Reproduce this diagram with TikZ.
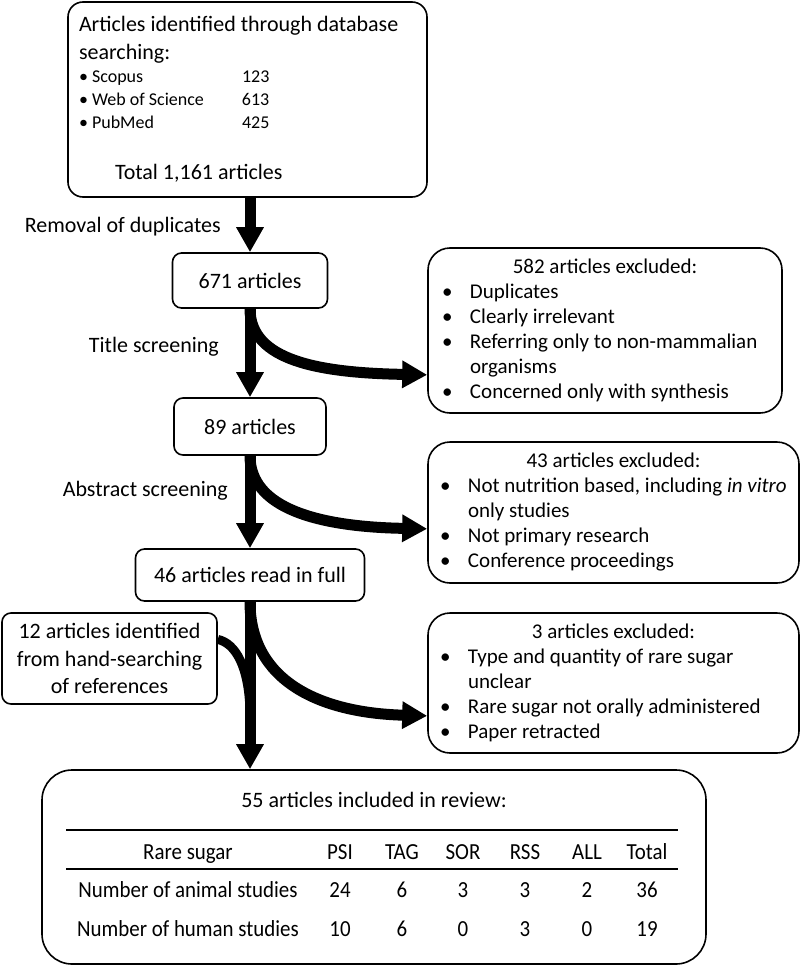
\documentclass[tikz,border=0pt]{standalone}
\usepackage{fontspec}
\setmainfont{Carlito}
\newfontfamily\tabfont[FakeStretch=0.91]{Carlito}
\usepackage{tikz}
\usetikzlibrary{arrows.meta}
\setlength{\parindent}{0pt}
\newcommand{\exitem}[1]{\makebox[32pt][l]{\hspace{4pt}\textbullet}#1}
\newcommand{\exmore}[1]{\makebox[32pt][l]{}#1}

\begin{document}
\begin{tikzpicture}[x=1pt,y=-1pt,
        box/.style={draw, line width=1.6pt, rounded corners=9pt, inner sep=0pt, font=\fontsize{22}{26}\selectfont},
        exbox/.style={box, rounded corners=22pt, font=\fontsize{21}{25}\selectfont},
        flow/.style={line width=11pt, -{Triangle[length=25pt,width=26pt]}},
        steplabel/.style={anchor=east, inner sep=0pt, text height=15pt, text depth=0pt, font=\fontsize{22}{26}\selectfont},
        tabcell/.style={inner sep=0pt, text height=15pt, text depth=0pt, font=\tabfont\fontsize{23}{27}\selectfont}]
        \useasboundingbox (0,0) rectangle (805,966);
        % search results
        \node[box, rounded corners=15pt, minimum width=359pt, minimum height=195pt] (search) at (247.5,99.5) {\begin{minipage}{337pt}
            \fontsize{22}{28}\selectfont Articles identified through database\\ searching:\par
            \fontsize{18}{23}\selectfont
            \makebox[163pt][l]{\textbullet\ Scopus}123\\
            \makebox[163pt][l]{\textbullet\ Web of Science}613\\
            \makebox[163pt][l]{\textbullet\ PubMed}425\par
            \fontsize{22}{51}\selectfont\hspace*{36pt}Total 1,161 articles
        \end{minipage}};
        % main steps
        \node[box, minimum width=155pt, minimum height=55pt] (b671) at (250,280.5) {671 articles};
        \node[box, minimum width=152pt, minimum height=57pt] (b89) at (250,426.5) {89 articles};
        \node[box, minimum width=229pt, minimum height=52pt] (b46) at (250,575) {46 articles read in full};
        \node[box, minimum width=215pt, minimum height=91pt, align=center, font=\fontsize{22}{27.5}\selectfont] (b12) at (109.5,658.5) {12 articles identified\\ from hand-searching\\ of references};
        \node[steplabel] (lbdup) at (221,224.5) {Removal of duplicates};
        \node[steplabel] (lbtitle) at (219,345) {Title screening};
        \node[steplabel] (lbabs) at (228,488.5) {Abstract screening};
        % exclusions
        \node[exbox, minimum width=354pt, minimum height=165pt] (ex582) at (605,330.5) {\begin{minipage}{334pt}
            \centering 582 articles excluded:\par\raggedright
            \exitem{Duplicates}\\
            \exitem{Clearly irrelevant}\\
            \exitem{Referring only to non-mammalian}\\
            \exmore{organisms}\\
            \exitem{Concerned only with synthesis}
        \end{minipage}};
        \node[exbox, minimum width=371pt, minimum height=141pt] (ex43) at (613.5,512.5) {\begin{minipage}{355pt}
            \centering 43 articles excluded:\par\raggedright
            \exitem{Not nutrition based, including \textit{in vitro}}\\
            \exmore{only studies}\\
            \exitem{Not primary research}\\
            \exitem{Conference proceedings}
        \end{minipage}};
        \node[exbox, minimum width=371pt, minimum height=140pt] (ex3) at (613.5,683) {\begin{minipage}{355pt}
            \centering 3 articles excluded:\par\raggedright
            \exitem{Type and quantity of rare sugar}\\
            \exmore{unclear}\\
            \exitem{Rare sugar not orally administered}\\
            \exitem{Paper retracted}
        \end{minipage}};
        % included
        \node[box, rounded corners=30pt, minimum width=664pt, minimum height=194pt] (b55) at (374,867) {};
        \node[font=\fontsize{22}{26}\selectfont] (incl) at (374,800) {55 articles included in review:};
        \draw[line width=1.6pt] (66,830) -- (678,830);
        \draw[line width=1.6pt] (66,869) -- (678,869);
        \foreach \x/\hd/\ra/\rh [count=\i] in {188/Rare sugar/Number of animal studies/Number of human studies,
            340/PSI/24/10, 402/TAG/6/6, 463/SOR/3/0, 525/RSS/3/3, 587/ALL/2/0, 647/Total/36/19}{
            \node[tabcell] (hd\i) at (\x,852) {\hd};
            \node[tabcell] (ra\i) at (\x,890) {\ra};
            \node[tabcell] (rh\i) at (\x,929) {\rh};
        }
        % arrows
        \coordinate (join) at (250,712);
        \draw[line width=9pt] (b12.10) .. controls +(18,4) and +(-1,-45) .. (join);
        \draw[flow] (search.south -| b671) -- (b671.north);
        \draw[flow] (b671.south) -- (b89.north);
        \draw[flow] (b89.south) -- (b46.north);
        \draw[flow] (b46.south) -- (b46.south |- b55.north);
        \draw[flow] (b671.south) .. controls +(0,52) and +(-108,-2) .. (ex582.194);
        \draw[flow] (b89.south) .. controls +(0,53) and +(-108,-2) .. (ex43.185);
        \draw[flow] (b46.south) .. controls +(0,79) and +(-108,-3) .. (ex3.190);
\end{tikzpicture}
\end{document}
